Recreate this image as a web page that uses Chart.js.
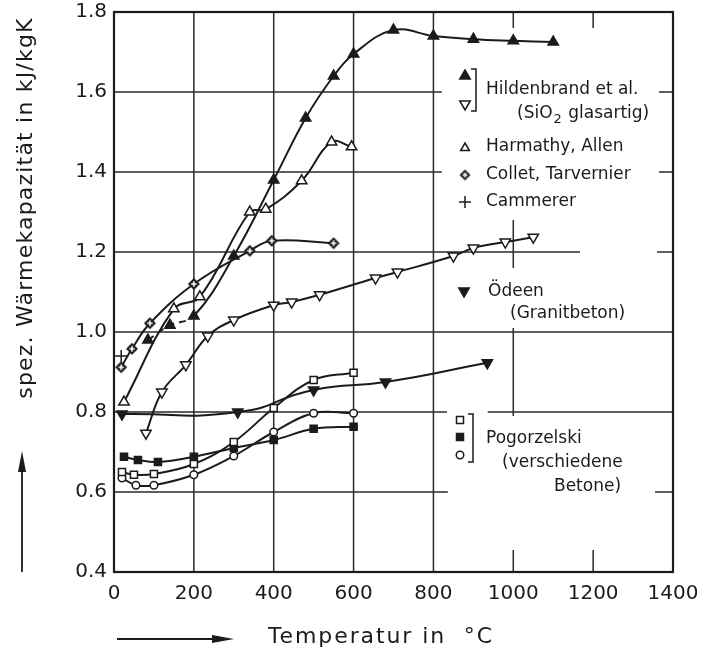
<!DOCTYPE html>
<html>
<head>
<meta charset="utf-8">
<script src="https://cdn.jsdelivr.net/npm/chart.js@4/dist/chart.umd.min.js"></script>
<style>
  html, body { margin: 0; padding: 0; background: #fff; }
</style>
</head>
<body>
<canvas id="cpChart" width="705" height="654"></canvas>
<script>
// spez. Wärmekapazität von Beton / Zuschlag über der Temperatur
const hildT    = [85, 140, 200, 300, 400, 480, 550, 600, 700, 800, 900, 1000, 1100];
const hildCp   = [0.98, 1.017, 1.04, 1.19, 1.38, 1.535, 1.64, 1.695, 1.755, 1.74, 1.732, 1.728, 1.725];
const glasT    = [80, 120, 180, 235, 300, 400, 445, 515, 655, 710, 850, 900, 980, 1050];
const glasCp   = [0.747, 0.85, 0.918, 0.99, 1.03, 1.067, 1.075, 1.093, 1.135, 1.15, 1.19, 1.21, 1.225, 1.237];
const harmT    = [25, 150, 215, 340, 380, 470, 545, 595];
const harmCp   = [0.825, 1.058, 1.088, 1.30, 1.307, 1.378, 1.475, 1.463];
const colletT  = [18, 45, 90, 200, 340, 395, 550];
const colletCp = [0.912, 0.958, 1.022, 1.12, 1.203, 1.228, 1.222];
const cammT    = [18];
const cammCp   = [0.94];
const odeenT   = [20, 310, 500, 680, 935];
const odeenCp  = [0.795, 0.80, 0.855, 0.875, 0.923];
const pogAT    = [20, 50, 100, 200, 300, 400, 500, 600];
const pogACp   = [0.65, 0.643, 0.645, 0.67, 0.725, 0.81, 0.88, 0.898];
const pogBT    = [25, 60, 110, 200, 300, 400, 500, 600];
const pogBCp   = [0.688, 0.68, 0.675, 0.688, 0.71, 0.73, 0.758, 0.763];
const pogCT    = [20, 55, 100, 200, 300, 400, 500, 600];
const pogCCp   = [0.635, 0.617, 0.617, 0.643, 0.69, 0.75, 0.797, 0.797];

const INK = '#1b1b1b';
const FONT = '"DejaVu Sans", sans-serif';

function pts(xs, ys) {
  return xs.map((x, i) => ({ x: x, y: ys[i] }));
}

// diamond with inner cross (Collet, Tarvernier)
function diamondMark(r) {
  const c = document.createElement('canvas');
  const s = Math.ceil(r * 2 + 4);
  c.width = s; c.height = s;
  const g = c.getContext('2d');
  const m = s / 2;
  g.fillStyle = INK;
  g.beginPath();
  g.moveTo(m, m - r); g.lineTo(m + r, m); g.lineTo(m, m + r); g.lineTo(m - r, m); g.closePath();
  g.fill();
  g.strokeStyle = '#fff';
  g.lineWidth = 1.6;
  g.beginPath();
  g.moveTo(m - r * 0.45, m); g.lineTo(m + r * 0.45, m);
  g.moveTo(m, m - r * 0.45); g.lineTo(m, m + r * 0.45);
  g.stroke();
  return c;
}
const diamond = diamondMark(6);
const diamondSmall = diamondMark(5.5);

function series(data, style, fill, extra) {
  return Object.assign({
    data: data,
    borderColor: INK,
    borderWidth: 2,
    tension: 0.4,
    pointStyle: style,
    pointBackgroundColor: fill,
    pointBorderColor: INK,
    pointBorderWidth: 1.5,
    pointRadius: 6
  }, extra || {});
}

const datasets = [
  series(pts(hildT, hildCp), 'triangle', INK, {
    segment: { borderDash: c => c.p0DataIndex < 2 ? [7, 5] : undefined }
  }),
  series(pts(glasT, glasCp), 'triangle', '#fff', { pointRotation: 180 }),
  series(pts(harmT, harmCp), 'triangle', '#fff'),
  series(pts(colletT, colletCp), diamond, INK),
  series(pts(cammT, cammCp), 'cross', INK, { showLine: false, pointRadius: 6, pointBorderWidth: 1.5 }),
  series(pts(odeenT, odeenCp), 'triangle', INK, { pointRotation: 180, tension: 0.55 }),
  series(pts(pogAT, pogACp), 'rect', '#fff', { pointRadius: 5 }),
  series(pts(pogBT, pogBCp), 'rect', INK, { pointRadius: 5 }),
  series(pts(pogCT, pogCCp), 'circle', '#fff', { pointRadius: 3.8 })
];

// grid pieces left open around the annotations [T, cp0, cp1] / [cp, T0, T1]
const vGrid = [
  [200, 0.4, 1.8], [400, 0.4, 1.8], [600, 0.4, 1.8], [800, 0.4, 1.8],
  [1000, 1.76, 1.8], [1000, 1.16, 1.28], [1000, 0.79, 1.01], [1000, 0.4, 0.455],
  [1200, 1.76, 1.8], [1200, 0.4, 0.455]
];
const hGrid = [
  [1.6, 0, 821], [1.6, 1365, 1400],
  [1.4, 0, 821], [1.4, 1365, 1400],
  [1.2, 0, 1167], [1.2, 1360, 1400],
  [1.0, 0, 1400],
  [0.8, 0, 834], [0.8, 936, 1400],
  [0.6, 0, 836], [0.6, 1355, 1400]
];

function marker(ctx, kind, x, y, r) {
  ctx.save();
  ctx.translate(x, y);
  ctx.strokeStyle = INK;
  ctx.fillStyle = INK;
  ctx.lineWidth = 1.5;
  ctx.beginPath();
  if (kind === 'up' || kind === 'upOpen' || kind === 'down' || kind === 'downOpen') {
    const s = kind.startsWith('down') ? -1 : 1;
    ctx.moveTo(0, -r * s);
    ctx.lineTo(r * 0.87, r * 0.5 * s);
    ctx.lineTo(-r * 0.87, r * 0.5 * s);
    ctx.closePath();
    if (kind.endsWith('Open')) { ctx.fillStyle = '#fff'; }
    ctx.fill(); ctx.stroke();
  } else if (kind === 'cross') {
    ctx.moveTo(-r, 0); ctx.lineTo(r, 0); ctx.moveTo(0, -r); ctx.lineTo(0, r);
    ctx.stroke();
  } else if (kind === 'sq' || kind === 'sqOpen') {
    ctx.rect(-r * 0.7, -r * 0.7, r * 1.4, r * 1.4);
    if (kind === 'sqOpen') { ctx.fillStyle = '#fff'; }
    ctx.fill(); ctx.stroke();
  } else if (kind === 'circ') {
    ctx.arc(0, 0, r * 0.75, 0, Math.PI * 2);
    ctx.fillStyle = '#fff';
    ctx.fill(); ctx.stroke();
  } else if (kind === 'diamond') {
    ctx.drawImage(diamondSmall, -diamondSmall.width / 2, -diamondSmall.height / 2);
  }
  ctx.restore();
}

function bracket(ctx, x, y0, y1) {
  ctx.beginPath();
  ctx.moveTo(x - 5, y0); ctx.lineTo(x, y0); ctx.lineTo(x, y1); ctx.lineTo(x - 5, y1);
  ctx.stroke();
}

const paperPlugin = {
  id: 'paper',
  beforeDatasetsDraw(chart) {
    const { ctx, chartArea: a, scales: { x, y } } = chart;
    ctx.save();
    ctx.strokeStyle = '#2a2a2a';
    ctx.lineWidth = 1.5;
    ctx.beginPath();
    vGrid.forEach(([t, v0, v1]) => {
      const px = x.getPixelForValue(t);
      ctx.moveTo(px, y.getPixelForValue(v0));
      ctx.lineTo(px, y.getPixelForValue(v1));
    });
    hGrid.forEach(([v, t0, t1]) => {
      const py = y.getPixelForValue(v);
      ctx.moveTo(x.getPixelForValue(t0), py);
      ctx.lineTo(x.getPixelForValue(t1), py);
    });
    ctx.stroke();
    ctx.strokeStyle = INK;
    ctx.lineWidth = 2.2;
    ctx.strokeRect(a.left, a.top, a.right - a.left, a.bottom - a.top);
    ctx.restore();
  },
  afterDraw(chart) {
    const ctx = chart.ctx;
    ctx.save();
    ctx.fillStyle = INK;
    ctx.strokeStyle = INK;
    ctx.textBaseline = 'middle';
    ctx.textAlign = 'left';

    // Legende
    ctx.font = '17px ' + FONT;
    marker(ctx, 'up', 465, 76, 6);
    marker(ctx, 'downOpen', 465, 104, 6);
    ctx.lineWidth = 1.5;
    bracket(ctx, 476, 69, 111);
    ctx.fillText('Hildenbrand et al.', 486, 90);
    ctx.fillText('(SiO', 517, 114);
    let w = ctx.measureText('(SiO').width;
    ctx.font = '13px ' + FONT;
    ctx.fillText('2', 517 + w + 1, 120);
    const w2 = ctx.measureText('2').width;
    ctx.font = '17px ' + FONT;
    ctx.fillText(' glasartig)', 517 + w + w2 + 2, 114);

    marker(ctx, 'upOpen', 465, 148, 5);
    ctx.fillText('Harmathy, Allen', 486, 147);
    marker(ctx, 'diamond', 465, 175, 5);
    ctx.fillText('Collet, Tarvernier', 486, 175);
    marker(ctx, 'cross', 465, 202, 6);
    ctx.fillText('Cammerer', 486, 202);

    marker(ctx, 'down', 464, 291, 6);
    ctx.fillText('Ödeen', 488, 292);
    ctx.fillText('(Granitbeton)', 510, 314);

    marker(ctx, 'sqOpen', 460, 420, 5);
    marker(ctx, 'sq', 460, 437, 5);
    marker(ctx, 'circ', 460, 455, 5);
    ctx.lineWidth = 1.5;
    bracket(ctx, 473, 414, 462);
    ctx.fillText('Pogorzelski', 486, 439);
    ctx.fillText('(verschiedene', 502, 463);
    ctx.fillText('Betone)', 554, 487);

    // Achsentitel mit Pfeilen
    ctx.font = '22px ' + FONT;
    ctx.letterSpacing = '1.9px';
    ctx.fillText('Temperatur in  °C', 268, 637);
    ctx.letterSpacing = '0px';
    ctx.lineWidth = 1.8;
    ctx.beginPath();
    ctx.moveTo(117, 639); ctx.lineTo(216, 639); ctx.stroke();
    ctx.beginPath();
    ctx.moveTo(234, 639); ctx.lineTo(212, 635); ctx.lineTo(212, 643); ctx.closePath(); ctx.fill();

    ctx.save();
    ctx.translate(26, 208);
    ctx.rotate(-Math.PI / 2);
    ctx.textAlign = 'center';
    ctx.letterSpacing = '1.2px';
    ctx.fillText('spez. Wärmekapazität in kJ/kgK', 0, 0);
    ctx.restore();
    ctx.beginPath();
    ctx.moveTo(22, 572); ctx.lineTo(22, 468); ctx.stroke();
    ctx.beginPath();
    ctx.moveTo(22, 451); ctx.lineTo(18, 472); ctx.lineTo(26, 472); ctx.closePath(); ctx.fill();
    ctx.restore();
  }
};

new Chart(document.getElementById('cpChart'), {
  type: 'scatter',
  data: { datasets: datasets },
  options: {
    responsive: false,
    animation: false,
    showLine: true,
    layout: { padding: { top: 12, right: 32, left: 0, bottom: 0 } },
    plugins: { legend: { display: false }, tooltip: { enabled: false } },
    scales: {
      x: {
        type: 'linear',
        min: 0, max: 1400,
        grid: { display: false, drawTicks: false },
        border: { display: false },
        ticks: {
          stepSize: 200, padding: 10, color: INK,
          font: { family: FONT, size: 20 },
          callback: v => String(v)
        },
        afterFit: s => { s.height = 82; s.paddingLeft = 0; s.paddingRight = 0; }
      },
      y: {
        type: 'linear',
        min: 0.4, max: 1.8,
        grid: { display: false, drawTicks: false },
        border: { display: false },
        ticks: {
          stepSize: 0.2, padding: 7, color: INK,
          font: { family: FONT, size: 20 },
          callback: v => v.toFixed(1)
        },
        afterFit: s => { s.width = 114; s.paddingTop = 0; s.paddingBottom = 0; }
      }
    }
  },
  plugins: [paperPlugin]
});
</script>
</body>
</html>
